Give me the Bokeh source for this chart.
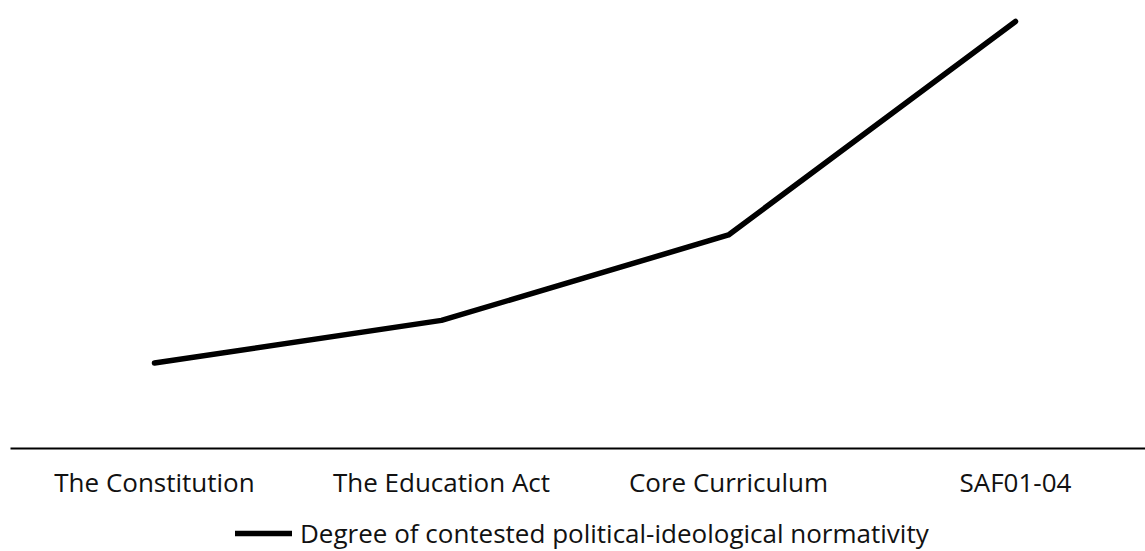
from bokeh.plotting import figure
from bokeh.layouts import column
from bokeh.models import Range1d, FixedTicker, Legend, LegendItem
from bokeh.embed import file_html
from bokeh.resources import INLINE

categories = ["The Constitution", "The Education Act", "Core Curriculum", "SAF01-04"]
values = [2, 3, 5, 10]
series_name = "Degree of contested political-ideological normativity"

FONT = "Open Sans"
xs = list(range(len(categories)))

p = figure(frame_width=1135, frame_height=439, output_backend="svg", toolbar_location=None,
           x_range=Range1d(-0.5017, 3.453), y_range=Range1d(0, 10.28),
           min_border_left=10, min_border_right=0, min_border_top=9, min_border_bottom=55)

r = p.line(xs, values, line_color="black", line_width=5.5, line_cap="round", line_join="round")

p.outline_line_color = None
p.xgrid.visible = False
p.ygrid.visible = False
p.yaxis.visible = False
p.background_fill_color = "white"
p.border_fill_color = "white"

ax = p.xaxis[0]
ax.ticker = FixedTicker(ticks=xs)
ax.major_label_overrides = {i: c for i, c in enumerate(categories)}
ax.major_tick_line_color = None
ax.minor_tick_line_color = None
ax.axis_line_color = "black"
ax.axis_line_width = 2
ax.major_label_text_font = FONT
ax.major_label_text_font_size = "26px"
ax.major_label_text_color = "#111111"
ax.major_label_standoff = 9

# legend strip below the chart
lf = figure(frame_width=1145, frame_height=48, output_backend="svg", toolbar_location=None,
            x_range=Range1d(0, 1), y_range=Range1d(0, 1),
            min_border_left=0, min_border_right=0, min_border_top=0, min_border_bottom=0)
lf.axis.visible = False
lf.grid.visible = False
lf.outline_line_color = None
lf.background_fill_color = "white"
lf.border_fill_color = "white"
lr = lf.line(xs, values, line_color="black", line_width=5.5, line_cap="round")

legend = Legend(items=[LegendItem(label=series_name, renderers=[lr])],
                orientation="horizontal", location=(235, 0),
                label_text_font=FONT, label_text_font_size="26px", label_text_color="#111111",
                glyph_width=57, glyph_height=20, label_standoff=8,
                border_line_color=None, background_fill_alpha=0,
                padding=0, margin=0)
lf.add_layout(legend, "center")

layout = column(p, lf, spacing=0)
open("out.html", "w").write(file_html(layout, INLINE))
